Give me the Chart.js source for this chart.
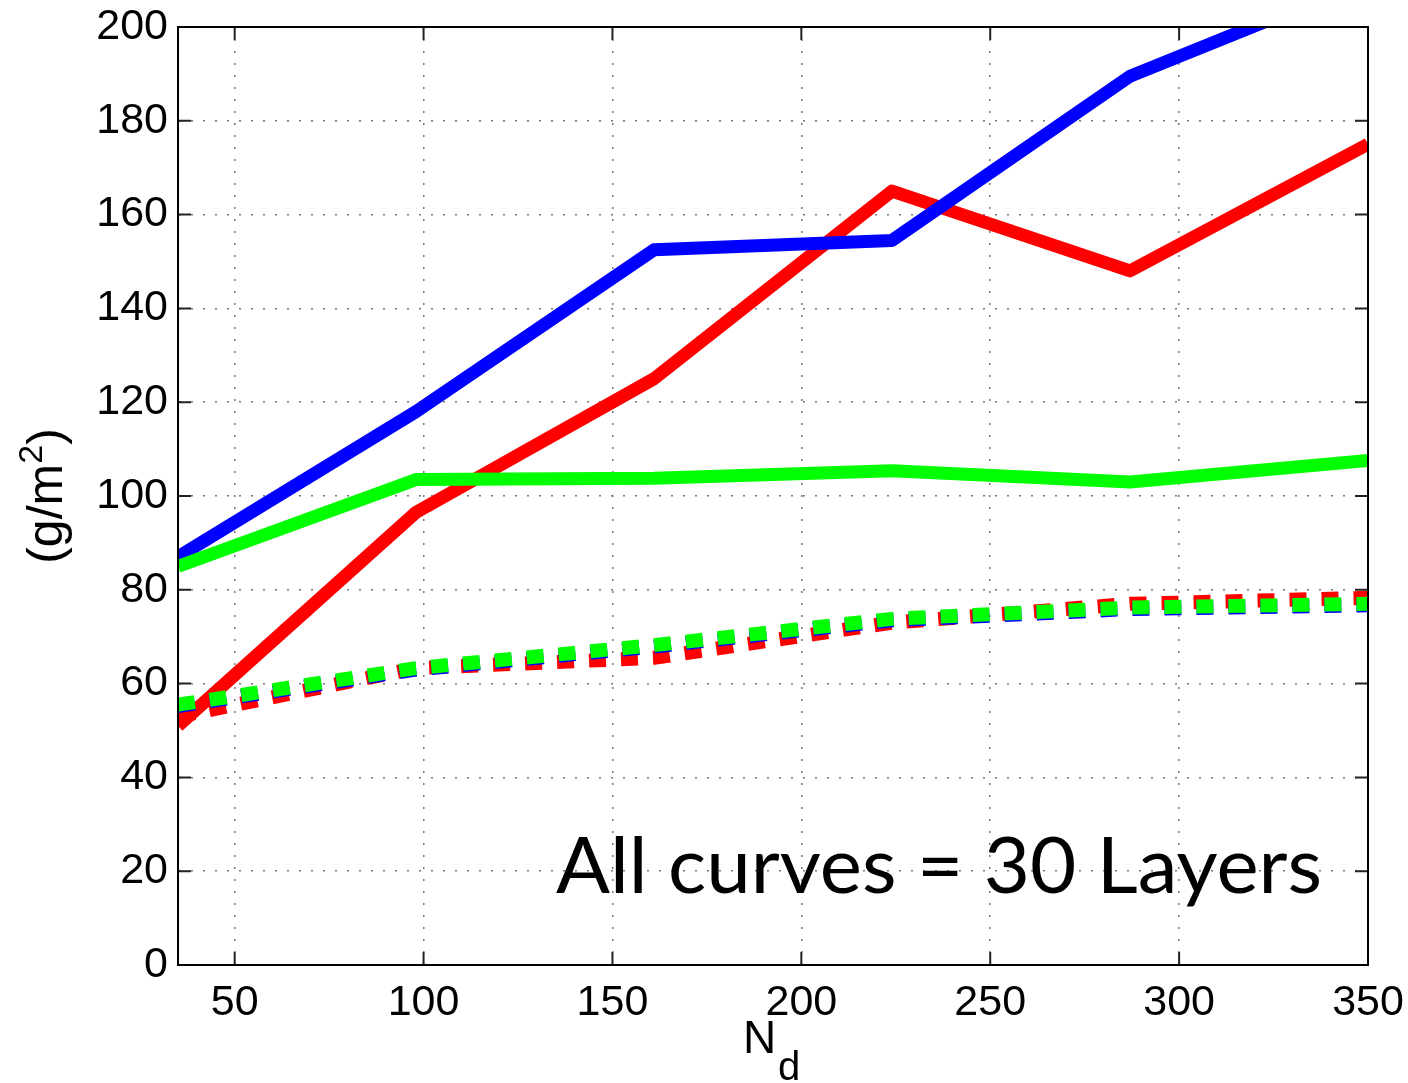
<!DOCTYPE html>
<html>
<head>
<meta charset="utf-8">
<script src="https://cdn.jsdelivr.net/npm/chart.js@4.4.0/dist/chart.umd.min.js"></script>
<style>
html, body { margin: 0; padding: 0; background: #fff; }
#wrap { width: 1408px; height: 1083px; }
</style>
</head>
<body>
<div id="wrap"><canvas id="chart" width="1408" height="1083"></canvas></div>
<script>
// values
var nd = [35, 98, 161, 224, 287, 350];
var blueSolid = [87, 118, 152.5, 154.5, 189.5, 210];
var redSolid = [51, 96.5, 125, 165, 148, 175];
var greenSolid = [85, 103.5, 103.8, 105.4, 103, 107.6];
var redDotted = [53, 63.3, 65.5, 73, 77, 78.3];
var blueDotted = [55.2, 63, 67.9, 73.5, 75.9, 76.7];
var greenDotted = [55.5, 63.3, 68.2, 73.8, 76.2, 77];
var xTicks = [50, 100, 150, 200, 250, 300, 350];
var yTicks = [0, 20, 40, 60, 80, 100, 120, 140, 160, 180, 200];
var note = 'All curves = 30 Layers';

function series(label, values, color, dotted) {
    return {
        label: label,
        data: values.map(function(v, i) { return {x: nd[i], y: v}; }),
        borderColor: color,
        borderWidth: dotted ? 14 : 13,
        borderDash: dotted ? [17, 15] : [],
        borderCapStyle: 'butt',
        borderJoinStyle: 'round',
        pointRadius: 0,
        tension: 0,
        fill: false,
        clip: 0
    };
}

// first dataset ends up on top
var datasets = [
    series('green dotted', greenDotted, '#00ff00', true),
    series('blue dotted', blueDotted, '#0000ff', true),
    series('red dotted', redDotted, '#ff0000', true),
    series('green', greenSolid, '#00ff00', false),
    series('blue', blueSolid, '#0000ff', false),
    series('red', redSolid, '#ff0000', false)
];

var extras = {
    id: 'extras',
    beforeDraw: function(chart) {
        var ctx = chart.ctx;
        ctx.save();
        ctx.fillStyle = '#fff';
        ctx.fillRect(0, 0, chart.width, chart.height);
        ctx.restore();
    },
    afterDraw: function(chart) {
        var ctx = chart.ctx, a = chart.chartArea;
        var xs = chart.scales.x, ys = chart.scales.y;
        ctx.save();
        // inward tick marks on all four sides
        ctx.strokeStyle = '#222';
        ctx.lineWidth = 2;
        ctx.beginPath();
        xTicks.forEach(function(v) {
            var px = xs.getPixelForValue(v);
            ctx.moveTo(px, a.bottom); ctx.lineTo(px, a.bottom - 13);
            ctx.moveTo(px, a.top); ctx.lineTo(px, a.top + 13);
        });
        yTicks.forEach(function(v) {
            var py = ys.getPixelForValue(v);
            ctx.moveTo(a.left, py); ctx.lineTo(a.left + 13, py);
            ctx.moveTo(a.right, py); ctx.lineTo(a.right - 13, py);
        });
        ctx.stroke();
        // box
        ctx.strokeStyle = '#000';
        ctx.lineWidth = 2;
        ctx.strokeRect(a.left, a.top, a.right - a.left, a.bottom - a.top);

        // annotation
        ctx.fillStyle = '#000';
        ctx.font = '78px Lato';
        ctx.textBaseline = 'alphabetic';
        ctx.textAlign = 'left';
        var w = ctx.measureText(note).width;
        ctx.translate(556, 893);
        ctx.scale(766 / w, 1);
        ctx.fillText(note, 0, 0);
        ctx.setTransform(1, 0, 0, 1, 0, 0);

        // y axis title (g/m^2), rotated
        ctx.translate(62, 496);
        ctx.rotate(-Math.PI / 2);
        var main = '50px "Liberation Sans"', sup = '34px "Liberation Sans"';
        ctx.font = main;
        var w1 = ctx.measureText('(g/m').width, w3 = ctx.measureText(')').width;
        ctx.font = sup;
        var w2 = ctx.measureText('2').width;
        var x0 = -(w1 + w2 + w3) / 2;
        ctx.font = main;
        ctx.fillText('(g/m', x0, 0);
        ctx.font = sup;
        ctx.fillText('2', x0 + w1, -20);
        ctx.font = main;
        ctx.fillText(')', x0 + w1 + w2, 0);
        ctx.setTransform(1, 0, 0, 1, 0, 0);

        // x axis title N_d
        ctx.font = '46px "Liberation Sans"';
        ctx.fillText('N', 743, 1053);
        ctx.font = '40px "Liberation Sans"';
        ctx.fillText('d', 778, 1080);
        ctx.restore();
    }
};

var tickFont = {family: 'Liberation Sans', size: 43};

new Chart(document.getElementById('chart'), {
    type: 'line',
    data: {datasets: datasets},
    options: {
        responsive: false,
        animation: false,
        devicePixelRatio: 1,
        layout: {padding: {top: 27, right: 40, left: 0, bottom: 0}},
        plugins: {legend: {display: false}, tooltip: {enabled: false}},
        scales: {
            x: {
                type: 'linear',
                min: 35,
                max: 350,
                afterBuildTicks: function(scale) {
                    scale.ticks = xTicks.map(function(v) { return {value: v}; });
                },
                afterFit: function(scale) {
                    scale.height = 118;
                    scale.paddingLeft = 0;
                    scale.paddingRight = 0;
                },
                grid: {color: '#777', lineWidth: 1.5, drawTicks: false},
                border: {display: true, color: '#000', width: 2, dash: [2, 10]},
                ticks: {color: '#000', font: tickFont, padding: 12, maxRotation: 0, autoSkip: false}
            },
            y: {
                min: 0,
                max: 200,
                afterBuildTicks: function(scale) {
                    scale.ticks = yTicks.map(function(v) { return {value: v}; });
                },
                afterFit: function(scale) {
                    scale.width = 178;
                    scale.paddingTop = 0;
                    scale.paddingBottom = 0;
                },
                grid: {color: '#777', lineWidth: 1.5, drawTicks: false},
                border: {display: true, color: '#000', width: 2, dash: [2, 10]},
                ticks: {color: '#000', font: tickFont, padding: 10, autoSkip: false}
            }
        }
    },
    plugins: [extras]
});
</script>
</body>
</html>
